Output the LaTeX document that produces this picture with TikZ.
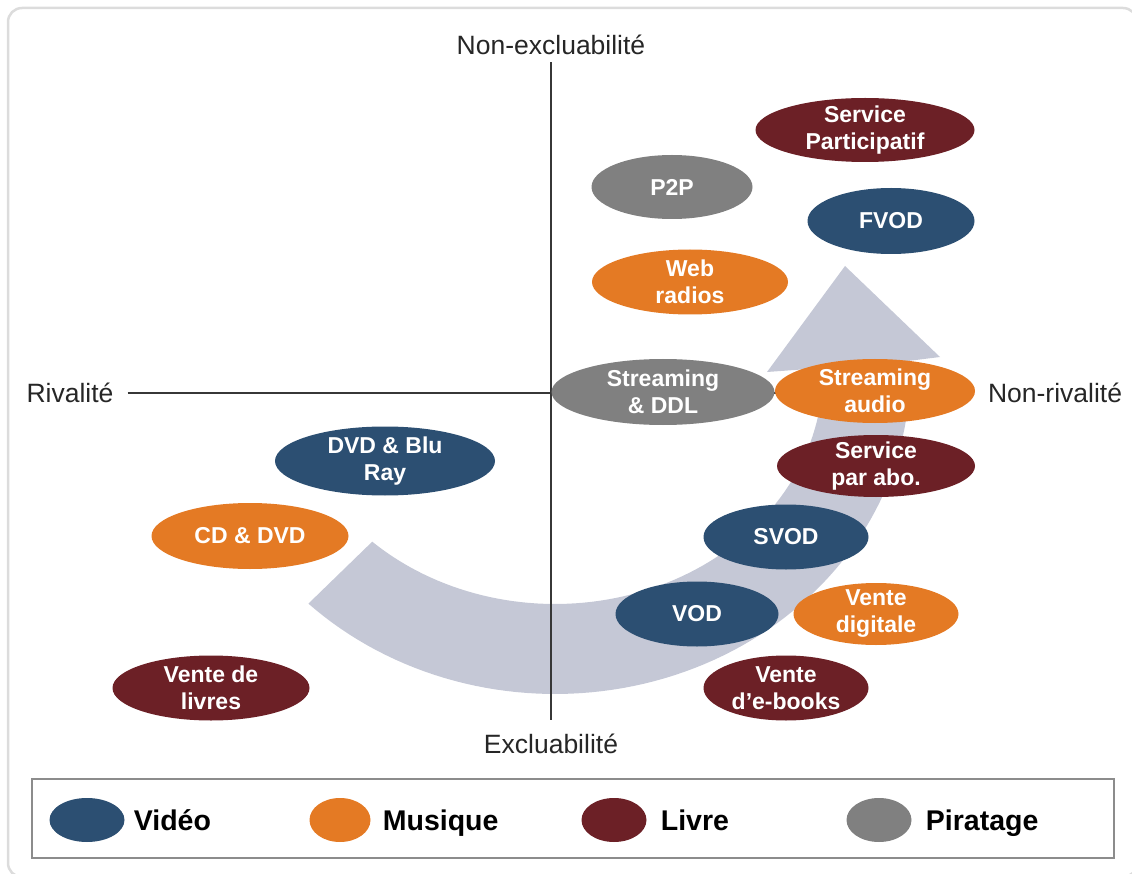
\documentclass[tikz,border=0pt]{standalone}
\usepackage{fontspec}
\setmainfont{Liberation Sans}
\usetikzlibrary{shapes, positioning}

\definecolor{videoblue}{RGB}{44,79,114}
\definecolor{musiqueorange}{RGB}{228,122,36}
\definecolor{livrered}{RGB}{108,32,38}
\definecolor{piratgray}{RGB}{128,128,128}
\definecolor{arrowgray}{RGB}{197,200,214}
\definecolor{axisgray}{RGB}{55,55,55}
\definecolor{labelgray}{RGB}{38,38,38}
\definecolor{legendgray}{RGB}{140,140,140}
\definecolor{framegray}{RGB}{220,220,220}

\begin{document}
\begin{tikzpicture}[x=1pt, y=-1pt,
  bubble/.style={ellipse, text=white, align=center, inner sep=-6pt,
    font=\fontsize{23}{27}\selectfont\bfseries},
  bsize/.style 2 args={minimum width=#1pt, minimum height=#2pt},
  video/.style={bubble, fill=videoblue},
  musique/.style={bubble, fill=musiqueorange},
  livre/.style={bubble, fill=livrered},
  piratage/.style={bubble, fill=piratgray},
  axislabel/.style={font=\fontsize{26.5}{30}\selectfont, text=labelgray, inner sep=14pt},
  legtext/.style={font=\fontsize{28.5}{32}\selectfont\bfseries, inner sep=0pt,
    text height=20pt, text depth=0pt}]
  \useasboundingbox (0,0) rectangle (1132,874);

  % frame
  \draw[framegray, line width=2.5, rounded corners=14pt] (8,8) rectangle (1137,877);

  %%%%%%%%%%%%%%%%%%
  % big arrow
  \fill[arrowgray] plot[domain=134:-2, samples=80] ({555+355*cos(\x)}, {372+322*sin(\x)})
    -- (940,357) -- (845,266) -- (767,372)
    -- plot[domain=-1:133, samples=80] ({555+268*cos(\x)}, {372+232*sin(\x)}) -- cycle;

  %%%%%%%%%%%%%%%%%%
  % axes
  \node (nonExcl) at (551,45) [axislabel, inner sep=7pt] {Non-excluabilité};
  \node (excl) at (551,744) [axislabel] {Excluabilité};
  \node (rival) at (70,393) [axislabel] {Rivalité};
  \node (nonRival) at (1055,393) [axislabel] {Non-rivalité};

  \draw[axisgray, line width=2] (nonExcl) -- (excl);
  \draw[axisgray, line width=2] (rival) -- (nonRival);

  %%%%%%%%%%%%%%%%%%
  \node (servicePart) at (865,130) [livre, bsize={219}{64}] {Service\\Participatif};
  \node (ptop) at (672,187) [piratage, bsize={161}{64}] {P2P};
  \node (fvod) at (891,221) [video, bsize={167}{66}] {FVOD};
  \node (webRadios) at (690,282) [musique, bsize={196}{65}] {Web\\radios};

  %%%%%%%%%%%%%%%%%%
  \node (streamDDL) at (663,392) [piratage, bsize={223}{66}] {Streaming\\\& DDL};
  \node (streamAudio) at (875,391) [musique, bsize={200}{64}] {Streaming\\audio};
  \node (serviceAbo) at (876,466) [livre, bsize={198}{62}] {Service\\par abo.};

  \node (dvdBluray) at (385,461) [video, bsize={220}{69}] {DVD \& Blu\\Ray};
  \node (cdDvd) at (250,536) [musique, bsize={197}{66}] {CD \& DVD};
  \node (venteLivres) at (211,688) [livre, bsize={197}{65}] {Vente de\\livres};

  %%%%%%%%%%%%%%%%%%
  \node (svod) at (786,537) [video, bsize={165}{65}] {SVOD};
  \node (vod) at (697,614) [video, bsize={163}{65}] {VOD};
  \node (venteDigitale) at (876,614) [musique, bsize={165}{62}] {Vente\\digitale};
  \node (venteEbooks) at (786,688) [livre, bsize={165}{65}] {Vente\\d’e-books};

  %%%%%%%%%%%%%%%%%%
  % legend
  \draw[legendgray, line width=2] (32,779) rectangle (1114,858);

  \node (legVideo) at (87,820) [video, bsize={75}{44}] {};
  \node (txtVideo) [legtext, right=9pt of legVideo] {Vidéo};

  \node (legMusique) at (340,820) [musique, bsize={61}{44}] {};
  \node (txtMusique) [legtext, right=12pt of legMusique] {Musique};

  \node (legLivre) at (614,820) [livre, bsize={65}{44}] {};
  \node (txtLivre) [legtext, right=14pt of legLivre] {Livre};

  \node (legPiratage) at (879,820) [piratage, bsize={65}{44}] {};
  \node (txtPiratage) [legtext, right=14pt of legPiratage] {Piratage};

\end{tikzpicture}
\end{document}
